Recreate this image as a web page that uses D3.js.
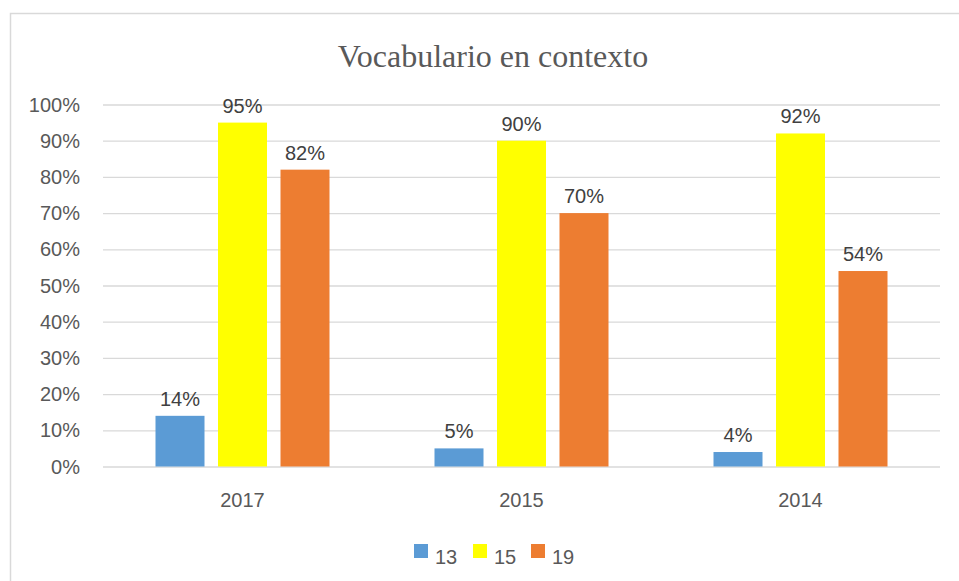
<!DOCTYPE html>
<html>
<head>
<meta charset="utf-8">
<script src="https://cdn.jsdelivr.net/npm/d3@7"></script>
<style>
  body { margin: 0; background: #fff; }
  svg { display: block; }
</style>
</head>
<body>
<svg id="chart" width="959" height="581"></svg>
<script>
// data
const years = ["2017", "2015", "2014"];
const series = ["13", "15", "19"];
const values13 = [14, 5, 4];
const values15 = [95, 90, 92];
const values19 = [82, 70, 54];
const yTicks = [0, 10, 20, 30, 40, 50, 60, 70, 80, 90, 100];
const colors = ["#5b9bd5", "#ffff00", "#ed7d31"];

const svg = d3.select("#chart");
const width = +svg.attr("width");
const height = +svg.attr("height");
const sansFont = "'Liberation Sans', Arial, sans-serif";

const margin = { top: 104.5, right: 19, bottom: 114.5, left: 103 };
const innerWidth = width - margin.left - margin.right;
const innerHeight = height - margin.top - margin.bottom;

const valuesBySeries = [values13, values15, values19];
const rows = years.map((y, i) => ({
  year: y,
  vals: series.map((s, j) => ({ key: s, value: valuesBySeries[j][i], color: colors[j] }))
}));

// outer border of the chart (runs off the right and bottom like the source)
svg.append("rect")
  .attr("x", 10.5).attr("y", 13.5)
  .attr("width", 960).attr("height", 600)
  .attr("fill", "none").attr("stroke", "#d9d9d9").attr("stroke-width", 1.5);

svg.append("text")
  .attr("x", 493).attr("y", 67)
  .attr("text-anchor", "middle")
  .attr("font-family", "'Liberation Serif', 'Times New Roman', serif")
  .attr("font-size", 32)
  .attr("fill", "#595959")
  .text("Vocabulario en contexto");

const g = svg.append("g")
  .attr("transform", `translate(${margin.left},${margin.top})`);

const x0 = d3.scaleBand().domain(years).range([0, innerWidth]).padding(0);
const x1 = d3.scaleBand().domain(series).range([-87, 87]).paddingInner(0.216).paddingOuter(0);
const yScale = d3.scaleLinear().domain([0, 100]).range([innerHeight, 0]);

// gridlines from the axis, labels placed with the scales
const yAxis = d3.axisLeft(yScale)
  .tickValues(yTicks)
  .tickFormat("")
  .tickSize(-innerWidth);
const yAxisG = g.append("g").call(yAxis);
yAxisG.select(".domain").remove();
yAxisG.selectAll(".tick line").attr("stroke", "#d9d9d9").attr("stroke-width", 1.3);

g.append("g").selectAll("text")
  .data(yTicks)
  .enter()
  .append("text")
  .attr("x", -23)
  .attr("y", (d) => yScale(d) + 7)
  .attr("text-anchor", "end")
  .attr("font-family", sansFont)
  .attr("font-size", 20)
  .attr("fill", "#595959")
  .text((d) => d + "%");

g.append("g").selectAll("text")
  .data(years)
  .enter()
  .append("text")
  .attr("x", (d) => x0(d) + x0.bandwidth() / 2)
  .attr("y", innerHeight + 40)
  .attr("text-anchor", "middle")
  .attr("font-family", sansFont)
  .attr("font-size", 20)
  .attr("fill", "#595959")
  .text((d) => d);

// bars
const groups = g.selectAll(".year")
  .data(rows)
  .enter()
  .append("g")
  .attr("class", "year")
  .attr("transform", (d) => `translate(${x0(d.year) + x0.bandwidth() / 2},0)`);

groups.selectAll("rect")
  .data((d) => d.vals)
  .enter()
  .append("rect")
  .attr("x", (d) => x1(d.key))
  .attr("y", (d) => yScale(d.value))
  .attr("width", x1.bandwidth())
  .attr("height", (d) => innerHeight - yScale(d.value))
  .attr("fill", (d) => d.color);

groups.selectAll("text.lbl")
  .data((d) => d.vals)
  .enter()
  .append("text")
  .attr("class", "lbl")
  .attr("x", (d) => x1(d.key) + x1.bandwidth() / 2)
  .attr("y", (d) => yScale(d.value) - 10)
  .attr("text-anchor", "middle")
  .attr("font-family", sansFont)
  .attr("font-size", 20)
  .attr("fill", "#404040")
  .text((d) => d.value + "%");

// legend
const legendX = [414, 473, 531];
const legend = svg.append("g");
series.forEach((s, i) => {
  legend.append("rect")
    .attr("x", legendX[i]).attr("y", 544)
    .attr("width", 14).attr("height", 14)
    .attr("fill", colors[i]);
  legend.append("text")
    .attr("x", legendX[i] + 21).attr("y", 564)
    .attr("font-family", sansFont)
    .attr("font-size", 20)
    .attr("fill", "#595959")
    .text(s);
});
</script>
</body>
</html>
